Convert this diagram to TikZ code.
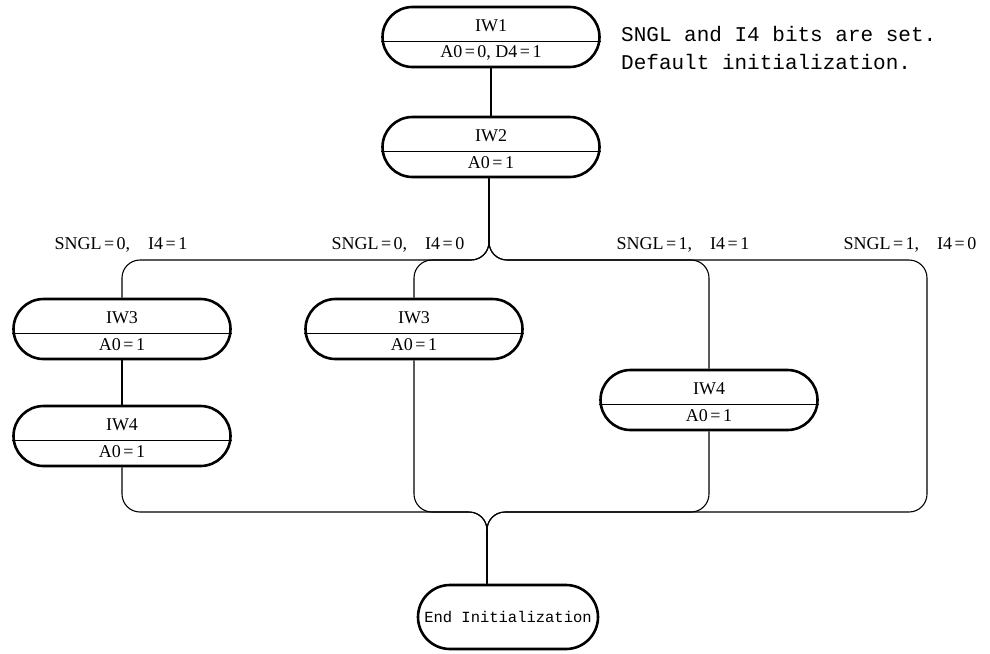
\documentclass[tikz,border=0pt]{standalone}
\usepackage{fontspec}
\setmainfont{Liberation Serif}
\newfontfamily\monofont{Liberation Mono}
\usetikzlibrary{shapes.misc}
\newcommand\iwbox[5]{%
  \node[box] (#1) at (#2,#3) {};
  \draw[divider] ([yshift=-4pt]#1.west) -- ([yshift=-4pt]#1.east);
  \node[lbl] (#1t) at ([yshift=11pt]#1.center) {#4};
  \node[lbl] (#1b) at ([yshift=-16pt]#1.center) {#5};
}
\newcommand\eqs{\hspace{2.5pt}=\hspace{2.5pt}}
\begin{document}
\begin{tikzpicture}[x=1pt,y=-1pt,
  box/.style={rounded rectangle, draw, line width=2.6pt, minimum width=217pt, minimum height=60pt, inner sep=0pt},
  divider/.style={line width=1pt},
  wire/.style={line width=1.1pt, rounded corners=18pt},
  lbl/.style={font=\fontsize{18}{21}\selectfont, inner sep=0pt},
  cond/.style={font=\fontsize{18}{21}\selectfont, inner sep=0pt},
  note/.style={font=\monofont\fontsize{21}{24}\selectfont, inner sep=0pt, anchor=west}]
\fill[white] (0,0) rectangle (990,653);
\useasboundingbox (0,0) rectangle (990,653);

\iwbox{iw1}{491}{37}{IW1}{A0\eqs 0, D4\eqs 1}
\iwbox{iw2}{491}{147}{IW2}{A0\eqs 1}
\iwbox{iw3a}{122}{329}{IW3}{A0\eqs 1}
\iwbox{iw3b}{414}{329}{IW3}{A0\eqs 1}
\iwbox{iw4a}{122}{436}{IW4}{A0\eqs 1}
\iwbox{iw4b}{709}{400}{IW4}{A0\eqs 1}
\node[box, minimum width=180pt, minimum height=64pt, font=\monofont\fontsize{15.5}{18}\selectfont] (endn) at (508,617) {End Initialization};

\node[note] (n1) at (621,34) {SNGL and I4 bits are set.};
\node[note] (n2) at (621,62) {Default initialization.};

\node[cond] (c1) at (121,245) {SNGL\eqs 0,\hspace{18pt}I4\eqs 1};
\node[cond] (c2) at (398,245) {SNGL\eqs 0,\hspace{18pt}I4\eqs 0};
\node[cond] (c3) at (683,245) {SNGL\eqs 1,\hspace{18pt}I4\eqs 1};
\node[cond] (c4) at (910,245) {SNGL\eqs 1,\hspace{18pt}I4\eqs 0};

\coordinate (split) at (489,260);
\coordinate (merge) at (487,512);
\coordinate (tr) at (927,260);
\coordinate (br) at (927,512);

\draw[wire] (iw1.south) -- (iw2.north);
\draw[wire] (iw2.south -| split) -- (split) -- (split -| iw3a) -- (iw3a.north);
\draw[wire] (iw2.south -| split) -- (split) -- (split -| iw3b) -- (iw3b.north);
\draw[wire] (iw2.south -| split) -- (split) -- (split -| iw4b) -- (iw4b.north);
\draw[wire] (iw2.south -| split) -- (split) -- (tr) -- (br) -- (merge) -- (merge |- endn.north);
\draw[wire] (iw3a.south) -- (iw4a.north);
\draw[wire] (iw4a.south) -- (merge -| iw4a) -- (merge) -- (merge |- endn.north);
\draw[wire] (iw3b.south) -- (merge -| iw3b) -- (merge) -- (merge |- endn.north);
\draw[wire] (iw4b.south) -- (merge -| iw4b) -- (merge) -- (merge |- endn.north);
\end{tikzpicture}
\end{document}
